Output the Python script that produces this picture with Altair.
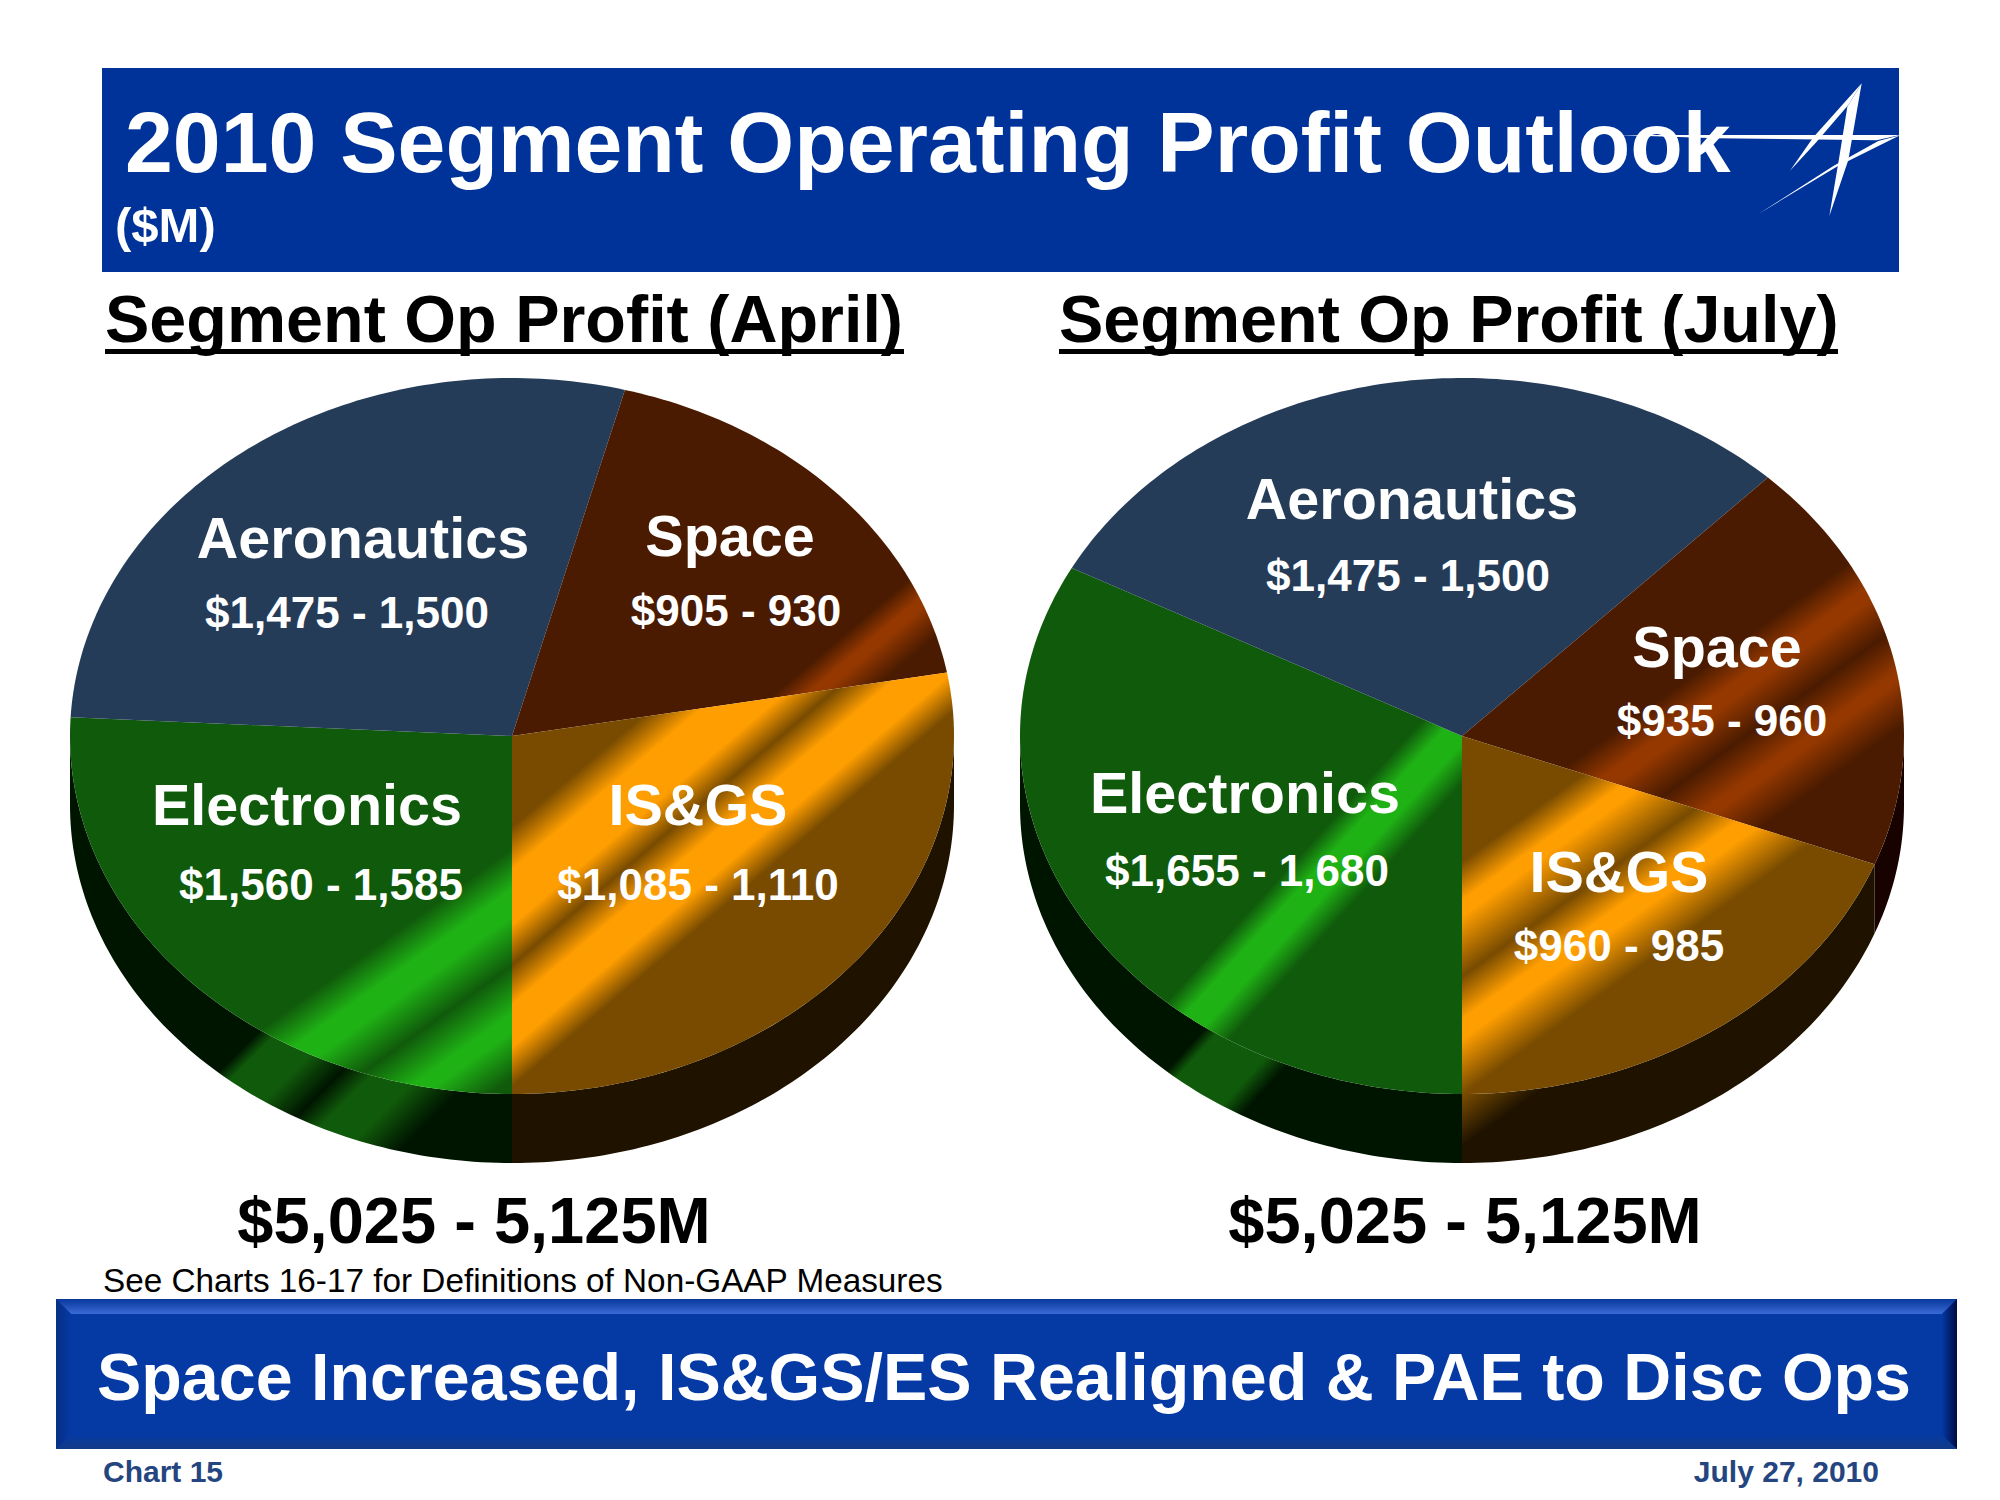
import math
import altair as alt

# ---- data ----
segments = ["Electronics", "Aeronautics", "Space", "IS&GS"]
# apparent slice sweeps (degrees on the tilted pie), starting from straight down, clockwise
sweep_april = [93.0, 101.8, 65.0, 100.2]
sweep_july = [118.0, 105.8, 67.2, 69.0]
ranges_april = ["$1,560 - 1,585", "$1,475 - 1,500", "$905 - 930", "$1,085 - 1,110"]
ranges_july = ["$1,655 - 1,680", "$1,475 - 1,500", "$935 - 960", "$960 - 985"]
title_text = "2010 Segment Operating Profit Outlook"
unit_text = "($M)"
head_april = "Segment Op Profit (April)"
head_july = "Segment Op Profit (July)"
total_april = "$5,025 - 5,125M"
total_july = "$5,025 - 5,125M"
foot_text = "See Charts 16-17 for Definitions of Non-GAAP Measures"
banner_text = "Space Increased, IS&GS/ES Realigned & PAE to Disc Ops"
chart_no = "Chart 15"
date_text = "July 27, 2010"

# ---- styling / layout ----
FONT = "Liberation Sans"
BLUE = "#003399"
OFF = 8
RX, RY, CY, DEPTH = 442, 358, 736, 69
CX_L, CX_R = 512, 1462
top_base = {"Electronics": ("#105A0B", "#1FB215"), "Aeronautics": ("#253C59", "#253C59"),
            "Space": ("#4A1B00", "#953800"), "IS&GS": ("#784B00", "#FF9E00")}
side_base = {"Electronics": ("#001500", "#105A0B"), "Aeronautics": ("#0A1420", "#0A1420"),
             "Space": ("#180200", "#180200"), "IS&GS": ("#1F1300", "#784B00")}
# light stripes: slope, then the levels of  a*x + y  where base/bright colours alternate
stripes_top_l = {
    "Electronics": (0.72, [1217, 1258, 1285, 1334, 1382, 1400, 1447]),
    "Space": (0.85, [1352, 1380, 1392, 1432]),
    "IS&GS": (0.85, [1262, 1305, 1360, 1400, 1440, 1482, 1522]),
}
stripes_top_r = {
    "Electronics": (1.1, [2285, 2318, 2352, 2392]),
    "Space": (0.72, [1894, 1931, 1947, 1993, 2037, 2048, 2096]),
    "IS&GS": (0.72, [1914, 1953, 1969, 2029, 2072, 2092, 2148]),
}
stripes_side_l = {"Electronics": (1.0, [1290, 1310, 1365, 1413, 1447, 1495, 1550])}
stripes_side_r = {
    "Electronics": (1.1, [2354, 2372, 2450, 2481]),
    "IS&GS": (0.72, [1800, 1900, 2149, 2199]),
}


def pt(cx, deg, dy=0):
    t = math.radians(deg)
    return [cx + RX * math.sin(t) - OFF, CY - RY * math.cos(t) + dy - OFF]


def fill_for(points, colors, stripe):
    base, bright = colors
    if stripe is None:
        return base
    a, lv = stripe
    # pattern: base, bright, [bright, base, bright]*, bright, base
    cols = [base, bright]
    i = 2
    while i < len(lv) - 1:
        cols.append(bright)
        if i + 2 < len(lv):
            cols += [base, bright]
            i += 3
        else:
            i += 1
    cols.append(base)
    lo, hi = lv[0] - 300, lv[-1] + 300
    stops = [(lo, base)] + list(zip(lv, cols)) + [(hi, base)]
    return gradient(points, stops, a)


def gradient(points, stops, a):
    xs = [p[0] for p in points]
    ys = [p[1] for p in points]
    x0, y0 = min(xs), min(ys)
    w, h = max(xs) - x0, max(ys) - y0
    xc, yc = x0 + w / 2, y0 + h / 2
    lo, hi = stops[0][0], stops[-1][0]
    d = (a * w / h, h / w)
    D = a * d[0] + d[1]
    t1 = (lo - OFF * (a + 1) - (a * xc + yc)) / D
    t2 = (hi - OFF * (a + 1) - (a * xc + yc)) / D
    return {
        "gradient": "linear",
        "x1": (xc + t1 * d[0] - x0) / w, "y1": (yc + t1 * d[1] - y0) / h,
        "x2": (xc + t2 * d[0] - x0) / w, "y2": (yc + t2 * d[1] - y0) / h,
        "stops": [{"offset": (s - lo) / (hi - lo), "color": c} for s, c in stops],
    }


PROJ = dict(type="identity", scale=1, translate=[0, 0])


def shape(points, fill):
    ring = [[round(x, 2), round(y, 2)] for x, y in points]
    ring.append(ring[0])
    feat = {"type": "Feature", "properties": {}, "geometry": {"type": "Polygon", "coordinates": [ring]}}
    return alt.Chart(alt.Data(values=[feat])).mark_geoshape(fill=fill, strokeWidth=0).project(**PROJ)


def text(s, x, y, size, color="white", weight="bold", align="center"):
    return alt.Chart(alt.Data(values=[{"t": s}])).mark_text(
        font=FONT, fontSize=size, fontWeight=weight, color=color, align=align, baseline="alphabetic"
    ).encode(x=alt.value(x - OFF), y=alt.value(y - OFF), text="t:N")


def pie(cx, sweeps, stripes_top, stripes_side):
    sides, tops = [], []
    a = 180.0
    for name, sw in zip(segments, sweeps):
        b = a + sw
        n = max(2, int(sw))
        arc = [pt(cx, a + (b - a) * i / n) for i in range(n + 1)]
        top = arc + [[cx - OFF, CY - OFF]]
        tops.append(shape(top, fill_for(top, top_base[name], stripes_top.get(name))))
        # visible rim: the front half of the pie only
        for shift in (0, 360):
            s0, s1 = max(a - shift, 90), min(b - shift, 270)
            if s1 > s0:
                m = max(2, int(s1 - s0))
                up = [pt(cx, s0 + (s1 - s0) * i / m) for i in range(m + 1)]
                dn = [pt(cx, s1 - (s1 - s0) * i / m, DEPTH) for i in range(m + 1)]
                poly = up + dn
                sides.append(shape(poly, fill_for(poly, side_base[name], stripes_side.get(name))))
        a = b
    return sides + tops


def rect(x0, y0, x1, y1):
    return [[x0 - OFF, y0 - OFF], [x1 - OFF, y0 - OFF], [x1 - OFF, y1 - OFF], [x0 - OFF, y1 - OFF]]


def vgrad(c0, c1, vertical=True):
    return {"gradient": "linear", "x1": 0, "y1": 0, "x2": 0 if vertical else 1, "y2": 1 if vertical else 0,
            "stops": [{"offset": 0, "color": c0}, {"offset": 1, "color": c1}]}


def logo_pts(zoom_pts):
    return [[1400 + zx / 3 - OFF, 60 + zy / 3 - OFF] for zx, zy in zoom_pts]


layers = []
# top banner
layers.append(shape(rect(102, 68, 1899, 272), BLUE))
layers.append(text(title_text, 125, 172, 86, align="left"))
layers.append(text(unit_text, 115, 242, 49, align="left"))
for star in (
    [(650, 225), (1500, 225), (1430, 241), (950, 235)],
    [(1075, 462), (1310, 320), (1500, 226), (1435, 243), (1300, 318)],
    [(1385, 70), (1345, 300), (1288, 468), (1318, 290), (1342, 140)],
    [(1385, 70), (1345, 135), (1250, 245), (1170, 332), (1240, 232)],
):
    layers.append(shape(logo_pts(star), "white"))

# column headings with their underlines
layers.append(text(head_april, 105, 342, 66.5, color="black", align="left"))
layers.append(text(head_july, 1059, 342, 66.5, color="black", align="left"))
layers.append(shape(rect(105, 349, 904, 354), "black"))
layers.append(shape(rect(1059, 349, 1838, 354), "black"))

# pies
layers += pie(CX_L, sweep_april, stripes_top_l, stripes_side_l)
layers += pie(CX_R, sweep_july, stripes_top_r, stripes_side_r)

# slice labels: name / range positions for Electronics, Aeronautics, Space, IS&GS
pos_l = [(307, 825, 321, 900), (363, 558, 347, 628), (730, 556, 736, 626), (698, 825, 698, 900)]
pos_r = [(1245, 813, 1247, 886), (1412, 519, 1408, 591), (1717, 667, 1722, 736), (1619, 892, 1619, 961)]
for rngs, pos in ((ranges_april, pos_l), (ranges_july, pos_r)):
    for name, r, (nx, ny, vx, vy) in zip(segments, rngs, pos):
        layers.append(text(name, nx, ny, 57.5))
        layers.append(text(r, vx, vy, 44))

# totals and footnote
layers.append(text(total_april, 474, 1243, 65, color="black"))
layers.append(text(total_july, 1465, 1243, 65, color="black"))
layers.append(text(foot_text, 103, 1292, 33.3, color="black", weight="normal", align="left"))

# bottom bevelled banner
layers.append(shape(rect(56, 1299, 1957, 1449), "#0539A3"))
layers.append(shape([[56 - OFF, 1299 - OFF], [1957 - OFF, 1299 - OFF], [1942 - OFF, 1314 - OFF], [71 - OFF, 1314 - OFF]],
                    vgrad("#07379B", "#3A6BD6")))
layers.append(shape([[56 - OFF, 1449 - OFF], [1957 - OFF, 1449 - OFF], [1942 - OFF, 1435 - OFF], [71 - OFF, 1435 - OFF]],
                    vgrad("#0539A3", "#123A85")))
layers.append(shape([[56 - OFF, 1299 - OFF], [71 - OFF, 1314 - OFF], [71 - OFF, 1435 - OFF], [56 - OFF, 1449 - OFF]],
                    vgrad("#072F85", "#0539A3", vertical=False)))
layers.append(shape([[1957 - OFF, 1299 - OFF], [1942 - OFF, 1314 - OFF], [1942 - OFF, 1435 - OFF], [1957 - OFF, 1449 - OFF]],
                    vgrad("#0539A3", "#000A44", vertical=False)))
layers.append(text(banner_text, 97, 1400, 66.4, align="left"))
layers.append(text(chart_no, 103, 1482, 30, color="#24457F", align="left"))
layers.append(text(date_text, 1879, 1482, 30, color="#24457F", align="right"))

chart = alt.layer(*layers).properties(
    width=1984, height=1484, padding=0, autosize=alt.AutoSizeParams(type="none")
).configure_view(stroke=None)

chart.save("out.html", embed_options={"renderer": "svg", "actions": False})
